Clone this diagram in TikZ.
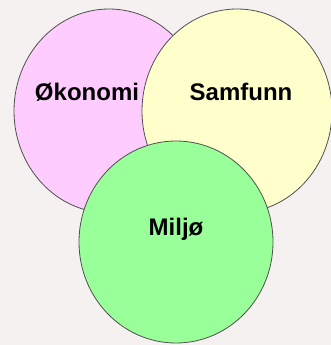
\documentclass[tikz,border=0pt]{standalone}
\usepackage{fontspec}
\setmainfont{Liberation Sans}
\usetikzlibrary{shapes.geometric, positioning}

\definecolor{bgcol}{HTML}{F4F1F0}
\definecolor{pinkfill}{HTML}{FFCCFF}
\definecolor{yellowfill}{HTML}{FFFFCC}
\definecolor{greenfill}{HTML}{99FF99}
\definecolor{rimcol}{HTML}{505050}

\tikzset{
    ring/.style={ellipse, draw=rimcol, line width=0.8pt, inner sep=0pt,
        minimum width=190pt, minimum height=204pt},
    tag/.style={font=\fontsize{24}{28}\selectfont\bfseries, inner sep=0pt}
}

\begin{document}
\begin{tikzpicture}[x=1pt, y=-1pt]
        \fill[bgcol] (0,0) rectangle (331,345);
        \useasboundingbox (0,0) rectangle (331,345);

        \node[ring, fill=pinkfill] (okonomi) at (109,111) {};
        \node[ring, fill=yellowfill] (samfunn) at (237,111) {};
        \node[ring, fill=greenfill, minimum width=194pt, minimum height=202pt] (miljo) at (176,242) {};

        \node[tag] (okonomitxt) at (87,92) {Økonomi};
        \node[tag] (samfunntxt) at (241,92) {Samfunn};
        \node[tag] (miljotxt) at (176,229) {Miljø};
    \end{tikzpicture}
\end{document}
